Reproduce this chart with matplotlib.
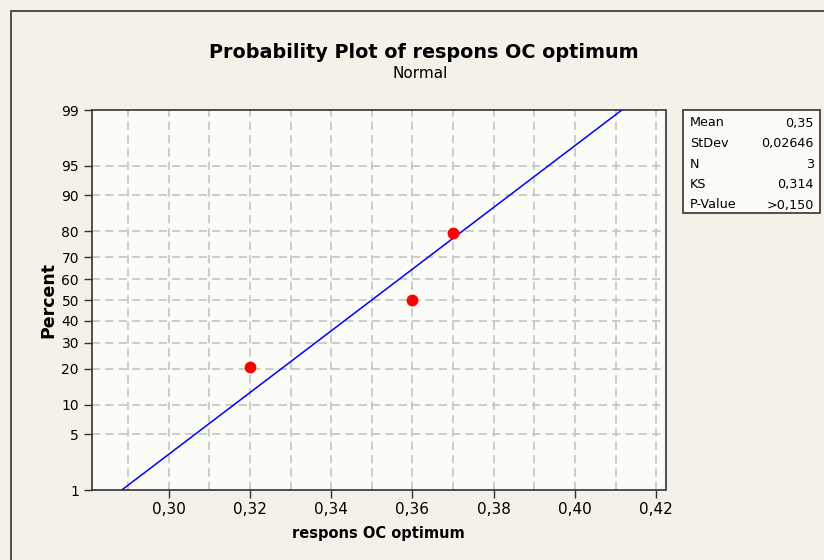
import numpy as np
import matplotlib
matplotlib.use("Agg")
import matplotlib.pyplot as plt
from matplotlib.patches import Rectangle
from statistics import NormalDist

# data
values = [0.32, 0.36, 0.37]
pct_ticks = [1, 5, 10, 20, 30, 40, 50, 60, 70, 80, 90, 95, 99]
x_ticks = [0.30, 0.32, 0.34, 0.36, 0.38, 0.40, 0.42]
stat_names = ["Mean", "StDev", "N", "KS", "P-Value"]
stat_values = ["0,35", "0,02646", "3", "0,314", ">0,150"]

nd = NormalDist()
z = nd.inv_cdf

n = len(values)
ranks = [(i + 1 - 0.3) / (n + 0.4) for i in range(n)]   # median ranks
mean = np.mean(values)
sd = np.std(values, ddof=1)

fig = plt.figure(figsize=(8.24, 5.6), dpi=100)
fig.patch.set_facecolor("#f4f1e8")
fig.patches.append(Rectangle((11 / 824, -0.1), 1.2, 1 - 11 / 560 + 0.1,
                             transform=fig.transFigure, fill=False,
                             edgecolor="#333333", linewidth=1.2))

ax = fig.add_axes([91.5 / 824, 1 - 490 / 560, 574 / 824, 380 / 560])
ax.set_facecolor("#fbfbf8")

zlo, zhi = z(0.01), z(0.99)
ax.set_ylim(zlo, zhi)
ax.set_xlim(0.281, 0.4223)

# grid
for xv in np.arange(0.29, 0.4201, 0.01):
    ax.axvline(xv, color="#c4c4c4", lw=1.2, ls=(0, (5, 3)), zorder=1)
for p in pct_ticks[1:-1]:
    ax.axhline(z(p / 100), color="#c4c4c4", lw=1.2, ls=(0, (5, 3)), zorder=1)

# fitted normal line
zz = np.linspace(zlo, zhi, 50)
ax.plot(mean + sd * zz, zz, color="#0000ff", lw=1.1, zorder=3)
ax.plot(values, [z(r) for r in ranks], "o", color="#ff0000", ms=7.5, zorder=4)

ax.set_yticks([z(p / 100) for p in pct_ticks])
ax.set_yticklabels([str(p) for p in pct_ticks], fontsize=10)
ax.set_xticks(x_ticks)
ax.set_xticklabels([("%.2f" % v).replace(".", ",") for v in x_ticks], fontsize=11)
ax.tick_params(direction="out", length=6, width=1, color="#333333", pad=3)
for s in ax.spines.values():
    s.set_color("#333333")
    s.set_linewidth(1.2)

ax.set_xlabel("respons OC optimum", fontsize=10.5, fontweight="bold", labelpad=6)
ax.set_ylabel("Percent", fontsize=12.5, fontweight="bold", labelpad=3)

fig.text(424 / 824, 1 - 52 / 560, "Probability Plot of respons OC optimum",
         ha="center", va="center", fontsize=13.8, fontweight="bold")
fig.text(420 / 824, 1 - 74 / 560, "Normal", ha="center", va="center", fontsize=11)

# stats box
fig.patches.append(Rectangle((683 / 824, 1 - 213 / 560), 137 / 824, 103 / 560,
                             transform=fig.transFigure, facecolor="#fbfbf8",
                             edgecolor="#333333", linewidth=1.2))
for i, (nm, vl) in enumerate(zip(stat_names, stat_values)):
    y = 1 - (123 + i * 20.5) / 560
    fig.text(690 / 824, y, nm, ha="left", va="center", fontsize=9.2)
    fig.text(814 / 824, y, vl, ha="right", va="center", fontsize=9.2)

fig.savefig("out.png", dpi=100, facecolor=fig.get_facecolor())
